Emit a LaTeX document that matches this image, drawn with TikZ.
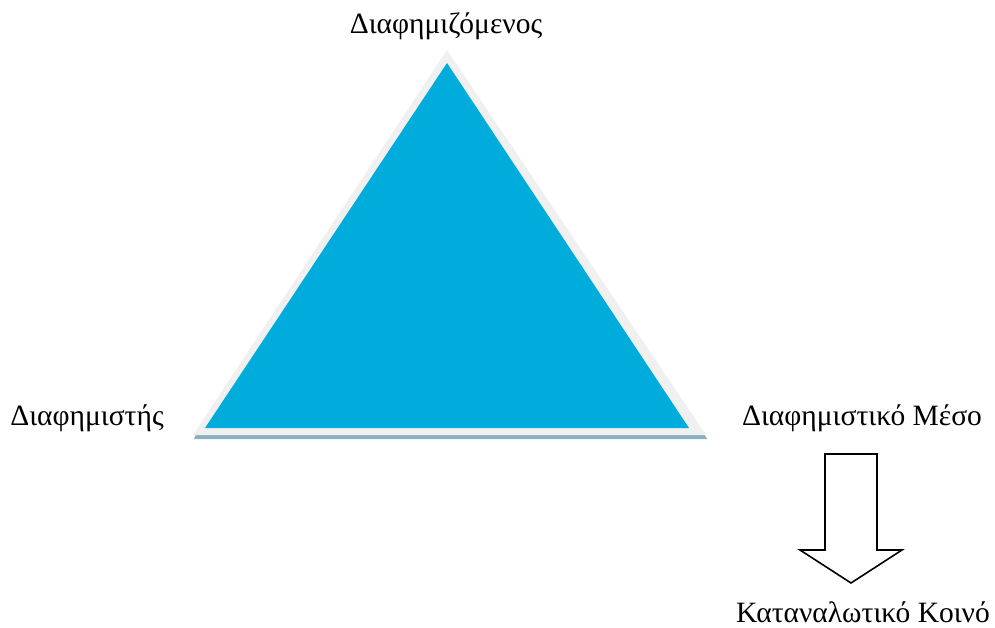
\documentclass[tikz,border=0pt]{standalone}
\usepackage{fontspec}
\setmainfont{Liberation Serif}
\begin{document}
\begin{tikzpicture}[x=1pt,y=-1pt,
  lbl/.style={font=\fontsize{29.5}{34}\selectfont, inner sep=0pt},
  bigarrow/.style={draw=black, line width=1.6pt, fill=white, line join=miter}]
\definecolor{triblue}{HTML}{00ACDB}
\definecolor{shadowc}{HTML}{8AAFBD}
\useasboundingbox (0,0) rectangle (995,628);
% shadow strip
\fill[shadowc] (197,432) -- (703,432) -- (707,439) -- (194,439) -- cycle;
% outer light triangle
\fill[black!6] (447,50) -- (706,435) -- (193,435) -- cycle;
% inner blue triangle
\fill[triblue] (447,63) -- (689,428) -- (205,428) -- cycle;
% labels
\node[lbl] (top) at (446,26) {Διαφημιζόμενος};
\node[lbl] (left) at (87,418) {Διαφημιστής};
\node[lbl] (right) at (862,418) {Διαφημιστικό Μέσο};
\node[lbl] (bottom) at (863,612) {Καταναλωτικό Κοινό};
% block arrow
\draw[bigarrow] (825,454) -- (877,454) -- (877,550) -- (902,550) -- (851,583) -- (800,550) -- (825,550) -- cycle;
\end{tikzpicture}
\end{document}
